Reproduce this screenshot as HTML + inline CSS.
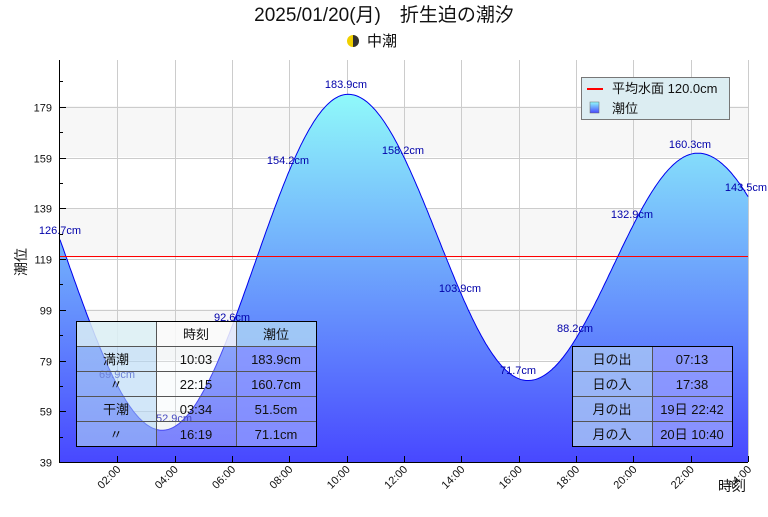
<!DOCTYPE html>
<html><head><meta charset="utf-8"><style>
body{margin:0;width:768px;height:512px;background:#fff;font-family:"Liberation Sans","Noto Sans CJK JP",sans-serif;overflow:hidden}
</style></head><body>
<svg id="s" width="768" height="512" xmlns="http://www.w3.org/2000/svg" font-family="Liberation Sans, Noto Sans CJK JP, sans-serif">
<defs>
<linearGradient id="g" gradientUnits="userSpaceOnUse" x1="0" y1="93" x2="0" y2="462"><stop offset="0" stop-color="#90fafa"/><stop offset="1" stop-color="#4848ff"/></linearGradient>
<linearGradient id="lg" x1="0" y1="0" x2="0" y2="1"><stop offset="0" stop-color="#90fafa"/><stop offset="1" stop-color="#4848ff"/></linearGradient>
</defs>
<text x="384" y="21" font-size="19" text-anchor="middle" fill="#111">2025/01/20(月)　折生迫の潮汐</text>
<circle cx="353" cy="41" r="6" fill="#f0d000"/><path d="M353 35 A6 6 0 0 1 353 47 Z" fill="#333"/>
<text x="367" y="46" font-size="15" fill="#111">中潮</text>
<rect x="60" y="60" width="688" height="402" fill="#fff"/>
<g fill="#f7f7f7"><rect x="60" y="106" width="688" height="51"/><rect x="60" y="208" width="688" height="50"/><rect x="60" y="309" width="688" height="51"/><rect x="60" y="411" width="688" height="51"/></g>
<g id="grid" stroke="#ccc" stroke-width="1"></g>
<path id="area" fill="url(#g)" stroke="none"/>
<path id="line" fill="none" stroke="#0000ee" stroke-width="1"/>
<line x1="60" x2="748" y1="256.5" y2="256.5" stroke="#f00" stroke-width="1"/>
<g font-size="11" fill="#0000aa" text-anchor="middle">
<text x="60" y="234">126.7cm</text><text x="117" y="378">69.9cm</text><text x="174" y="422">52.9cm</text>
<text x="232" y="321">92.6cm</text><text x="288" y="164">154.2cm</text><text x="346" y="88">183.9cm</text>
<text x="403" y="154">158.2cm</text><text x="460" y="292">103.9cm</text><text x="518" y="374">71.7cm</text>
<text x="575" y="332">88.2cm</text><text x="632" y="218">132.9cm</text><text x="690" y="148">160.3cm</text><text x="746" y="191">143.5cm</text>
</g>
<line x1="59.5" y1="60" x2="59.5" y2="462" stroke="#000"/><line x1="59" y1="462.5" x2="748" y2="462.5" stroke="#000"/>
<g id="ticks" stroke="#000"></g>
<g font-size="11" fill="#111" text-anchor="end" id="yl"></g>
<g font-size="11" fill="#111" id="xl"></g>
<text x="26" y="262" font-size="14" transform="rotate(-90 26 262)" text-anchor="middle" fill="#111">潮位</text>
<text x="732" y="491" font-size="14" text-anchor="middle" fill="#111">時刻</text>
<rect x="581.5" y="77.5" width="148" height="42" fill="#dcedf2" stroke="#777"/>
<line x1="587" x2="603" y1="89" y2="89" stroke="#f00" stroke-width="2"/>
<text x="612" y="93" font-size="13" fill="#111">平均水面 120.0cm</text>
<rect x="590" y="102" width="9" height="11" fill="url(#lg)" stroke="#666" stroke-width="0.5"/>
<text x="612" y="113" font-size="13" fill="#111">潮位</text>
<g stroke="#555" stroke-width="1">
<rect x="76.5" y="321.5" width="80" height="25" fill="rgba(220,240,245,0.85)"/>
<rect x="156.5" y="321.5" width="80" height="25" fill="rgba(250,250,250,0.85)"/>
<rect x="236.5" y="321.5" width="80" height="25" fill="rgba(170,210,245,0.85)"/>
<rect x="76.5" y="346.5" width="80" height="100" fill="rgba(180,215,245,0.6)"/>
<rect x="156.5" y="346.5" width="80" height="100" fill="rgba(240,245,250,0.3)"/>
<rect x="236.5" y="346.5" width="80" height="100" fill="rgba(150,160,255,0.75)"/>
<line x1="76" x2="316" y1="371.5" y2="371.5"/><line x1="76" x2="316" y1="396.5" y2="396.5"/><line x1="76" x2="316" y1="421.5" y2="421.5"/>
<rect x="76.5" y="321.5" width="240" height="125" fill="none" stroke="#000"/>
<rect x="572.5" y="346.5" width="80" height="100" fill="rgba(170,200,245,0.8)"/>
<rect x="652.5" y="346.5" width="80" height="100" fill="rgba(150,160,255,0.8)"/>
<line x1="572" x2="732" y1="371.5" y2="371.5"/><line x1="572" x2="732" y1="396.5" y2="396.5"/><line x1="572" x2="732" y1="421.5" y2="421.5"/>
<rect x="572.5" y="346.5" width="160" height="100" fill="none" stroke="#000"/>
</g>
<g font-size="13" fill="#111" text-anchor="middle">
<text x="196" y="339">時刻</text><text x="276" y="339">潮位</text>
<text x="116" y="364">満潮</text><text x="196" y="364">10:03</text><text x="276" y="364">183.9cm</text>
<text x="116" y="389">〃</text><text x="196" y="389">22:15</text><text x="276" y="389">160.7cm</text>
<text x="116" y="414">干潮</text><text x="196" y="414">03:34</text><text x="276" y="414">51.5cm</text>
<text x="116" y="439">〃</text><text x="196" y="439">16:19</text><text x="276" y="439">71.1cm</text>
<text x="612" y="364">日の出</text><text x="692" y="364">07:13</text>
<text x="612" y="389">日の入</text><text x="692" y="389">17:38</text>
<text x="612" y="414">月の出</text><text x="692" y="414">19日 22:42</text>
<text x="612" y="439">月の入</text><text x="692" y="439">20日 10:40</text>
</g>
</svg>
<script>
var NS="http://www.w3.org/2000/svg";
function X(t){return 60+t*28.67}function Y(v){return 462-(v-39)*2.5375}
function el(p,n,a,txt){var e=document.createElementNS(NS,n);for(var k in a)e.setAttribute(k,a[k]);if(txt)e.textContent=txt;document.getElementById(p).appendChild(e);}
for(var h=2;h<=24;h+=2){var x=Math.round(X(h))+.5;el("grid","line",{x1:x,x2:x,y1:60,y2:462});el("ticks","line",{x1:x,x2:x,y1:462,y2:456});
var lx=X(h)+4,ly=470;el("xl","text",{x:lx,y:ly,"text-anchor":"end",transform:"rotate(-45 "+lx+" "+ly+")"},(h<10?"0":"")+h+":00");}
for(var v=39;v<=179;v+=20){var y=Math.round(Y(v))+.5;el("grid","line",{x1:60,x2:748,y1:y,y2:y});el("ticks","line",{x1:60,x2:66,y1:y,y2:y});el("yl","text",{x:52,y:y+4},v);}
for(var v=49;v<=189;v+=20){var y=Math.round(Y(v))+.5;el("ticks","line",{x1:60,x2:63,y1:y,y2:y});}
var E=[[-3.04,185],[3.567,51.5],[10.05,183.9],[16.317,71.1],[22.25,160.7],[29.05,50]];
function val(t){for(var i=0;i<E.length-1;i++){var a=E[i],b=E[i+1];if(t>=a[0]&&t<=b[0]){var f=(t-a[0])/(b[0]-a[0]);return a[1]+(b[1]-a[1])*(1-Math.cos(Math.PI*f))/2;}}return 0;}
var d="";for(var t=0;t<=24.001;t+=0.05){d+=(t==0?"M":"L")+X(t).toFixed(1)+" "+Y(val(t)).toFixed(1);}
document.getElementById("line").setAttribute("d",d);
document.getElementById("area").setAttribute("d",d+"L748 462L60 462Z");
</script>
</body></html>
